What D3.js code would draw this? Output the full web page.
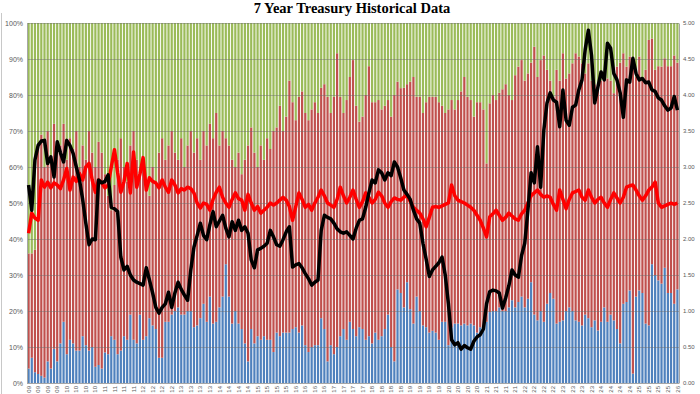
<!DOCTYPE html>
<html>
<head>
<meta charset="utf-8">
<script src="https://cdn.jsdelivr.net/npm/d3@7"></script>
<style>
  body { margin: 0; background: #fff; }
  svg { display: block; font-family: 'Liberation Sans', Arial, sans-serif; }
</style>
</head>
<body>
<div id="chart"></div>
<script>
// first auction in the series, one bar per month after that
const firstAuction = new Date(2009, 1, 1);

// shares of each auction, in percent (blue / red / green)
const direct = [
  4, 7, 3, 2.5, 2, 1.5, 6, 4, 9.5, 6, 11,
  17, 8, 12, 11, 9, 9, 13, 10.5, 9, 10, 4.5, 5,
  4, 8.5, 8, 13, 12, 8, 9, 13, 12, 19, 12, 11,
  19, 12, 13, 18, 16, 15, 7, 7, 17, 17, 19, 20,
  21, 19, 19, 20, 20, 15.5, 16, 18, 22, 17, 24, 16.5,
  17, 21, 24, 33, 24, 16.5, 20, 16.5, 15, 11, 6, 15,
  11, 13, 12, 13, 12, 12, 8.6, 14, 13, 14, 14, 14,
  15, 15.5, 14, 16, 10.5, 8.6, 10, 10.5, 10.5, 18, 15, 6,
  10.5, 8, 10, 13, 15, 12, 17, 15, 13, 15.5, 15, 12,
  13, 11, 14, 12, 13, 15, 19, 10, 6, 26, 25, 21,
  28, 20.5, 16.5, 24, 20, 16, 15.5, 14, 14.5, 14, 12, 17,
  17, 10.5, 15.5, 16.5, 16.5, 16, 16.5, 16, 16.5, 16, 14, 15.5,
  16, 17, 19.7, 20, 20, 21, 20, 20, 21, 23, 21, 22.5,
  24, 21, 23.4, 28, 19, 17.4, 20, 17, 22, 25, 23.4, 16.5,
  17, 17.4, 20, 21, 20, 17.4, 17, 16, 19, 18, 15.5, 17.4,
  14.6, 17, 21, 17, 19, 17.4, 15, 11, 22, 22.5, 25.7, 2.6,
  24, 25.7, 25, 16.5, 16, 33, 30, 28.5, 27.6, 32, 25, 25,
  22, 26
];

const indirect = [
  32, 29, 34, 63.5, 67, 58.5, 64, 58, 62.5, 58, 55,
  55, 54, 56, 54, 61, 51, 53, 51.5, 61, 54, 55.5, 62,
  60, 49.5, 44, 35, 43, 54, 59, 47, 44, 47, 58, 51,
  39, 50, 42, 34, 44, 41, 57, 61, 45, 49, 51, 44,
  41, 49, 41, 46, 50, 48.5, 52, 44, 48, 49, 48, 51.5,
  58, 45, 46, 35, 42, 45.5, 40, 47.5, 43, 51, 60, 56,
  53, 47, 54, 49, 56, 53, 61.4, 57, 64, 56, 60, 70,
  63, 57.5, 65.5, 65, 64.5, 64.4, 66, 67.5, 64.5, 64, 68, 73.5,
  64.5, 71.5, 81.6, 66.5, 60, 66.6, 68, 74.7, 64, 57.1, 59, 68,
  75, 67, 64, 66.6, 63, 62, 59.6, 64, 74, 57.7, 56.9, 61,
  55, 63.2, 68.5, 55.5, 59.5, 59, 62.5, 65.5, 65, 65.5, 66, 60,
  58, 65.5, 63.1, 59.5, 62.1, 65, 68.5, 63.5, 62.1, 58, 64, 62.5,
  60, 44, 58, 60, 58.6, 59.6, 61.6, 63, 59, 55.6, 64.5, 65.4,
  65.7, 63, 62.6, 61, 74.4, 67.6, 69.7, 74, 65, 59, 56.1, 70.5,
  67, 74.2, 64.6, 65, 68.8, 74.2, 73.7, 72.8, 67, 70.8, 68.5, 65.6,
  67.7, 67, 65, 67.6, 65, 63.1, 72.9, 78, 69.6, 65.4, 65, 85.3,
  61, 65, 59, 70.5, 79.3, 62.7, 57, 59.5, 60.3, 58.2, 63, 63,
  69, 63
];

const dealers = [
  64, 64, 63, 34, 31, 40, 30, 38, 28, 36, 34,
  28, 38, 32, 35, 30, 40, 34, 38, 30, 36, 40, 33,
  36, 42, 48, 52, 45, 38, 32, 40, 44, 34, 30, 38,
  42, 38, 45, 48, 40, 44, 36, 32, 38, 34, 30, 36,
  38, 32, 40, 34, 30, 36, 32, 38, 30, 34, 28, 32,
  25, 34, 30, 32, 34, 38, 40, 36, 42, 38, 34, 29,
  36, 40, 34, 38, 32, 35, 30, 29, 23, 30, 26, 16,
  22, 27, 20.5, 19, 25, 27, 24, 22, 25, 18, 17, 20.5,
  25, 20.5, 8.4, 20.5, 25, 21.4, 15, 10.3, 23, 27.4, 26, 20,
  12, 22, 22, 21.4, 24, 23, 21.4, 26, 20, 16.3, 18.1, 18,
  17, 16.3, 15, 20.5, 20.5, 25, 22, 20.5, 20.5, 20.5, 22, 23,
  25, 24, 21.4, 24, 21.4, 19, 15, 20.5, 21.4, 26, 22, 22,
  24, 39, 22.3, 20, 21.4, 19.4, 18.4, 17, 20, 21.4, 14.5, 12.1,
  10.3, 16, 14, 11, 6.6, 15, 10.3, 9, 13, 16, 20.5, 13,
  16, 8.4, 15.4, 14, 11.2, 8.4, 9.3, 11.2, 14, 11.2, 16, 17,
  17.7, 16, 14, 15.4, 16, 19.5, 12.1, 11, 8.4, 12.1, 9.3, 12.1,
  15, 9.3, 16, 13, 4.7, 4.3, 13, 12, 12.1, 9.8, 12, 12,
  9, 11
];

// high yield of each auction (right axis)
const highYield = [
  2.75, 2.40, 3.10, 3.30, 3.36, 3.37, 3.05, 3.14, 2.86, 3.35, 3.20,
  3.07, 3.37, 3.30, 3.19, 3.00, 2.82, 2.55, 2.22, 1.92, 2.00, 1.99, 2.82,
  2.78, 2.80, 2.89, 2.44, 2.42, 2.38, 1.75, 1.57, 1.62, 1.50, 1.43, 1.40,
  1.38, 1.36, 1.60, 1.43, 1.25, 1.05, 0.97, 1.05, 1.10, 1.26, 1.05, 1.25,
  1.40, 1.30, 1.22, 1.15, 1.57, 1.89, 2.05, 2.22, 2.05, 1.99, 2.20, 2.38,
  2.17, 2.25, 2.33, 2.15, 2.03, 2.24, 2.12, 2.26, 2.12, 2.17, 2.08, 1.71,
  1.60, 1.85, 1.87, 1.90, 1.94, 2.12, 2.03, 1.92, 1.90, 1.99, 2.10, 2.17,
  1.61, 1.64, 1.66, 1.60, 1.52, 1.45, 1.36, 1.40, 1.43, 2.12, 2.33, 2.30,
  2.28, 2.22, 2.14, 2.10, 2.08, 2.10, 2.05, 2.00, 2.15, 2.26, 2.28, 2.44,
  2.64, 2.82, 2.78, 2.96, 2.92, 2.82, 2.92, 2.88, 3.07, 3.00, 2.85, 2.68,
  2.62, 2.55, 2.40, 2.28, 2.22, 1.94, 1.72, 1.48, 1.57, 1.62, 1.67, 1.75,
  1.50, 1.10, 0.60, 0.53, 0.56, 0.47, 0.52, 0.49, 0.47, 0.58, 0.64, 0.67,
  0.75, 1.10, 1.27, 1.29, 1.28, 1.25, 1.04, 1.18, 1.35, 1.57, 1.50, 1.47,
  1.77, 1.94, 2.40, 2.92, 2.78, 3.28, 2.72, 3.51, 3.89, 4.03, 3.93, 3.90,
  3.56, 4.07, 3.65, 3.58, 3.83, 3.86, 4.07, 4.21, 4.63, 4.90, 4.55, 3.89,
  4.11, 4.32, 4.21, 4.72, 4.65, 4.30, 4.21, 4.03, 3.69, 4.21, 4.18, 4.51,
  4.30, 4.21, 4.23, 4.17, 4.18, 4.07, 4.05, 3.96, 3.93, 3.85, 3.79, 3.82,
  3.98, 3.79
];

// bid to cover ratio (right axis)
const bidToCover = [
  2.08, 2.36, 2.29, 2.26, 2.82, 2.72, 2.79, 2.71, 2.78, 2.75, 2.70,
  2.82, 2.98, 2.68, 2.86, 2.80, 2.91, 2.82, 3.00, 3.05, 2.82, 2.65, 2.82,
  2.78, 2.71, 2.75, 3.00, 3.24, 2.92, 2.65, 2.80, 3.05, 2.64, 3.21, 2.72,
  2.90, 3.13, 2.68, 2.85, 2.80, 2.78, 2.71, 2.82, 2.72, 2.65, 2.82, 2.75,
  2.64, 2.70, 2.68, 2.72, 2.70, 2.64, 2.50, 2.43, 2.50, 2.48, 2.40, 2.55,
  2.65, 2.72, 2.58, 2.50, 2.44, 2.55, 2.64, 2.56, 2.54, 2.40, 2.62, 2.50,
  2.40, 2.45, 2.36, 2.40, 2.44, 2.50, 2.47, 2.50, 2.54, 2.58, 2.54, 2.45,
  2.26, 2.45, 2.64, 2.55, 2.44, 2.48, 2.40, 2.50, 2.58, 2.68, 2.60, 2.50,
  2.47, 2.44, 2.55, 2.72, 2.60, 2.50, 2.58, 2.68, 2.55, 2.44, 2.52, 2.64,
  2.58, 2.50, 2.55, 2.65, 2.60, 2.50, 2.44, 2.52, 2.57, 2.55, 2.54, 2.58,
  2.61, 2.52, 2.44, 2.40, 2.36, 2.28, 2.17, 2.30, 2.44, 2.45, 2.44, 2.46,
  2.48, 2.50, 2.75, 2.60, 2.54, 2.52, 2.50, 2.47, 2.44, 2.40, 2.33, 2.26,
  2.15, 2.03, 2.31, 2.35, 2.40, 2.33, 2.26, 2.30, 2.36, 2.32, 2.28, 2.26,
  2.35, 2.40, 2.50, 2.60, 2.64, 2.68, 2.62, 2.58, 2.60, 2.58, 2.48, 2.40,
  2.68, 2.55, 2.42, 2.55, 2.64, 2.66, 2.68, 2.58, 2.54, 2.68, 2.58, 2.50,
  2.55, 2.58, 2.50, 2.44, 2.55, 2.64, 2.57, 2.50, 2.58, 2.72, 2.74, 2.75,
  2.68, 2.60, 2.54, 2.60, 2.68, 2.72, 2.79, 2.50, 2.44, 2.46, 2.48, 2.50,
  2.48, 2.50
];

const leftTicks = d3.range(0, 11).map(d => d / 10);
const rightTicks = d3.range(0, 11).map(d => d / 2);

const width = 700;
const height = 394;
const plot = { left: 27, right: 679, top: 23, bottom: 383 };

const n = direct.length;
const months = d3.range(n).map(i => d3.timeMonth.offset(firstAuction, i));
const yearLabel = d3.timeFormat('%y');

const svg = d3.select('#chart')
  .append('svg')
  .attr('width', width)
  .attr('height', height);

const x = d3.scaleBand()
  .domain(d3.range(n))
  .range([plot.left, plot.right])
  .paddingInner(0.3)
  .paddingOuter(0.15);

const y = d3.scaleLinear().domain([0, 1]).range([plot.bottom, plot.top]);
const yRight = d3.scaleLinear().domain([0, 5]).range([plot.bottom, plot.top]);

const cx = i => x(i) + x.bandwidth() / 2;

// frame edge on the left
svg.append('line')
  .attr('x1', 1.5).attr('x2', 1.5)
  .attr('y1', 13).attr('y2', height)
  .attr('stroke', '#c8c8c8');

svg.append('text')
  .attr('x', 352)
  .attr('y', 13)
  .attr('text-anchor', 'middle')
  .style('font-family', "'Liberation Serif', 'Times New Roman', serif")
  .style('font-weight', 'bold')
  .style('font-size', '14.5px')
  .attr('fill', '#000')
  .text('7 Year Treasury Historical Data');

// stacked 100% bars
const rows = d3.range(n).map(i => ({ direct: direct[i], indirect: indirect[i], dealers: dealers[i] }));
const series = d3.stack()
  .keys(['direct', 'indirect', 'dealers'])
  .offset(d3.stackOffsetExpand)(rows);

const colors = { direct: '#4f81bd', indirect: '#c0504d', dealers: '#9bbb59' };

svg.append('g')
  .selectAll('g')
  .data(series)
  .join('g')
  .attr('fill', s => colors[s.key])
  .selectAll('rect')
  .data(s => s)
  .join('rect')
  .attr('x', (d, i) => x(i))
  .attr('width', x.bandwidth())
  .attr('y', d => y(d[1]))
  .attr('height', d => y(d[0]) - y(d[1]));

// gridlines
svg.append('g')
  .selectAll('line')
  .data(leftTicks)
  .join('line')
  .attr('x1', plot.left).attr('x2', plot.right)
  .attr('y1', d => Math.round(y(d)) + 0.5)
  .attr('y2', d => Math.round(y(d)) + 0.5)
  .attr('stroke', '#6b6b6b')
  .attr('stroke-opacity', 0.45);

// left axis
const leftAxis = svg.append('g')
  .attr('transform', `translate(${plot.left},0)`)
  .call(d3.axisLeft(y).tickValues(leftTicks).tickFormat(d3.format('.0%')).tickSize(0).tickPadding(4));
leftAxis.select('.domain').attr('stroke', '#a6a6a6');
leftAxis.selectAll('text').attr('fill', '#595959').style('font-size', '7px');

// right axis
const rightAxis = svg.append('g')
  .attr('transform', `translate(${plot.right},0)`)
  .call(d3.axisRight(yRight).tickValues(rightTicks).tickFormat(d3.format('.2f')).tickSize(0).tickPadding(4));
rightAxis.select('.domain').attr('stroke', '#a6a6a6');
rightAxis.selectAll('text').attr('fill', '#595959').style('font-size', '6px');

// bottom axis with a label on every third auction
svg.append('line')
  .attr('x1', plot.left).attr('x2', plot.right)
  .attr('y1', plot.bottom + 0.5).attr('y2', plot.bottom + 0.5)
  .attr('stroke', '#a6a6a6');

svg.append('g')
  .selectAll('text')
  .data(d3.range(0, n, 3))
  .join('text')
  .attr('transform', i => `translate(${cx(i)},${plot.bottom + 3}) rotate(-90)`)
  .attr('text-anchor', 'end')
  .attr('dy', '0.35em')
  .attr('fill', '#595959')
  .style('font-size', '6px')
  .text(i => yearLabel(months[i]));

// lines on the right axis
const line = d3.line()
  .x((d, i) => cx(i))
  .y(d => yRight(d))
  .curve(d3.curveLinear);

svg.append('path')
  .datum(bidToCover)
  .attr('d', line)
  .attr('fill', 'none')
  .attr('stroke', '#ff0000')
  .attr('stroke-width', 3.5)
  .attr('stroke-linejoin', 'round');

svg.append('path')
  .datum(highYield)
  .attr('d', line)
  .attr('fill', 'none')
  .attr('stroke', '#000')
  .attr('stroke-width', 3.5)
  .attr('stroke-linejoin', 'round');
</script>
</body>
</html>
